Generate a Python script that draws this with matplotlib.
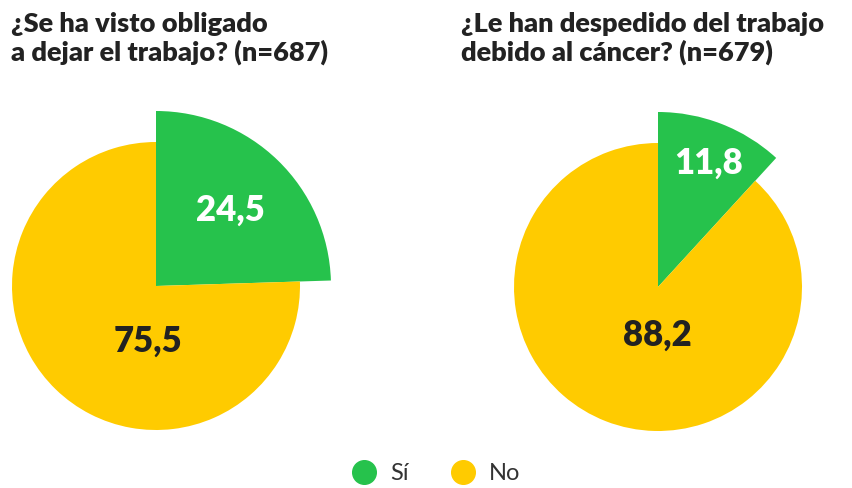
import matplotlib.pyplot as plt
from matplotlib.lines import Line2D

plt.rcParams['font.family'] = ['Lato', 'DejaVu Sans']

# data
labels = ['Sí', 'No']
titles = ['¿Se ha visto obligado\na dejar el trabajo? (n=687)',
          '¿Le han despedido del trabajo\ndebido al cáncer? (n=679)']
values = [[24.5, 75.5], [11.8, 88.2]]
value_text = [['24,5', '75,5'], ['11,8', '88,2']]

green = '#26C24C'
yellow = '#FFCB00'
dark = '#222222'

fig = plt.figure(figsize=(8.52, 4.88), dpi=100)
ax = fig.add_axes([0, 0, 1, 1])

centers = [(156, 202), (658, 201)]
title_x = [11, 461]
label_pos = [[(230, 278), (148, 147)], [(709, 325), (657, 153)]]

for i in range(2):
    c = centers[i]
    # big green slice
    w_big, _ = ax.pie(values[i], colors=[green, yellow], startangle=90, counterclock=False,
                      radius=175, center=c, frame=True)
    w_big[1].set_visible(False)
    # normal yellow slice
    w_small, _ = ax.pie(values[i], colors=[green, yellow], startangle=90, counterclock=False,
                        radius=144, center=c, frame=True)
    w_small[0].set_visible(False)
    ax.text(label_pos[i][0][0], label_pos[i][0][1], value_text[i][0], color='white',
            fontsize=25, fontweight='heavy', ha='center', va='center')
    ax.text(label_pos[i][1][0], label_pos[i][1][1], value_text[i][1], color=dark,
            fontsize=25, fontweight='heavy', ha='center', va='center')
    ax.text(title_x[i], 476, titles[i], color=dark, fontsize=19.5, fontweight='heavy',
            ha='left', va='top', linespacing=1.17)

ax.set_xlim(0, 852)
ax.set_ylim(0, 488)
ax.set_aspect('equal')
ax.axis('off')

# legend
handles = [Line2D([], [], marker='o', linestyle='', markersize=17, color=green),
           Line2D([], [], marker='o', linestyle='', markersize=17, color=yellow)]
leg = fig.legend(handles, labels, loc='lower center', bbox_to_anchor=(0.505, -0.036), ncol=2,
                 frameon=False, fontsize=17, handletextpad=0.1, columnspacing=1.3)
for t in leg.get_texts():
    t.set_color('#333333')

plt.savefig('out.png', dpi=100)
